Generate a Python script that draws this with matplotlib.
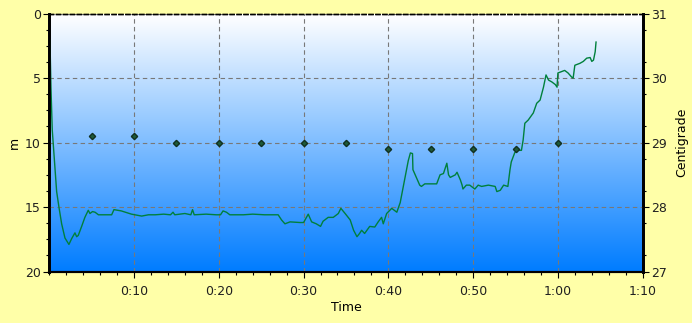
import numpy as np
import matplotlib
matplotlib.use("Agg")
import matplotlib.pyplot as plt
import matplotlib.ticker as mticker
from matplotlib.colors import LinearSegmentedColormap

# depth profile (minutes, metres)
depth_t = [0.08, 0.2, 0.35, 0.67, 0.87, 1.14, 1.46, 1.85, 2.32, 2.64, 3.03, 3.23, 3.42,
           3.82, 4.2, 4.6, 4.8, 5.1, 5.4, 5.8, 7.36, 7.63, 8.5, 9.7, 10.9, 11.7, 12.5,
           13.5, 14.3, 14.6, 14.8, 16.0, 16.7, 16.9, 17.1, 18.5, 19.7, 20.2, 20.5, 20.9,
           21.3, 22.9, 24.0, 25.4, 27.0, 27.4, 27.8, 28.4, 29.6, 30.0, 30.55, 30.95, 31.5,
           32.0, 32.3, 32.9, 33.5, 34.1, 34.4, 34.9, 35.5, 35.9, 36.3, 36.6, 36.85, 37.2,
           37.8, 38.4, 38.8, 39.2, 39.4, 39.8, 40.4, 41.0, 41.4, 41.8, 42.1, 42.35, 42.6,
           42.85, 42.9, 43.3, 43.7, 43.9, 44.3, 45.7, 46.1, 46.5, 46.9, 47.1, 47.3, 47.9,
           48.1, 48.5, 48.7, 48.8, 49.2, 49.6, 50.2, 50.6, 51.0, 51.8, 52.6, 52.8, 53.2,
           53.6, 54.1, 54.35, 54.5, 54.9, 55.1, 55.7, 55.9, 56.1, 56.5, 57.1, 57.5, 57.9,
           58.3, 58.6, 58.9, 59.3, 59.7, 59.9, 60.0, 60.4, 60.8, 61.2, 61.6, 61.8, 62.0,
           62.6, 63.0, 63.4, 63.8, 64.0, 64.2, 64.4, 64.5]
depth_m = [2.05, 5.7, 9.0, 11.9, 13.8, 15.0, 16.3, 17.4, 17.9, 17.45, 17.0, 17.3, 17.2,
           16.5, 15.8, 15.25, 15.5, 15.35, 15.4, 15.6, 15.6, 15.2, 15.3, 15.55, 15.7, 15.6, 15.6,
           15.55, 15.6, 15.4, 15.6, 15.5, 15.6, 15.2, 15.6, 15.55, 15.6, 15.6, 15.3, 15.4,
           15.6, 15.6, 15.55, 15.6, 15.6, 16.0, 16.3, 16.15, 16.2, 16.2, 15.55, 16.15, 16.3,
           16.5, 16.1, 15.8, 15.8, 15.5, 15.1, 15.5, 16.0, 16.8, 17.3, 17.05, 16.8, 17.05,
           16.5, 16.55, 16.15, 15.8, 16.3, 15.5, 15.1, 15.4, 14.65, 13.3, 12.3, 11.4, 10.8,
           10.85, 12.1, 12.7, 13.3, 13.4, 13.2, 13.2, 12.5, 12.4, 11.6, 12.5, 12.7, 12.5,
           12.3, 12.9, 13.3, 13.6, 13.3, 13.3, 13.6, 13.3, 13.4, 13.3, 13.4, 13.8, 13.7,
           13.3, 13.4, 12.1, 11.5, 10.8, 10.6, 10.6, 9.8, 8.5, 8.25, 7.7, 6.95, 6.7,
           5.7, 4.75, 5.15, 5.3, 5.5, 5.7, 4.6, 4.5, 4.4, 4.6, 4.9, 5.0, 4.0,
           3.85, 3.7, 3.45, 3.4, 3.7, 3.6, 2.95, 2.2]

# temperature samples (minutes, centigrade)
temp_t = [5, 10, 15, 20, 25, 30, 35, 40, 45, 50, 55, 60]
temp_c = [29.1, 29.1, 29.0, 29.0, 29.0, 29.0, 29.0, 28.9, 28.9, 28.9, 28.9, 29.0]

x_ticks = [10, 20, 30, 40, 50, 60, 70]
x_labels = ["0:10", "0:20", "0:30", "0:40", "0:50", "1:00", "1:10"]

fig = plt.figure(figsize=(6.92, 3.23), dpi=100, facecolor="#FFFFA8")
ax = fig.add_axes([0.0712, 0.1594, 0.8575, 0.7982])

# gradient background
cmap = LinearSegmentedColormap.from_list("bg", ["#FFFFFF", "#007CFF"])
grad = np.linspace(0, 1, 256).reshape(-1, 1)
ax.imshow(grad, cmap=cmap, aspect="auto", extent=[0, 1, 0, 1],
          transform=ax.transAxes, zorder=0)

ax.plot(depth_t, depth_m, color="#00803C", lw=1.0, zorder=3)
ax.set_xlim(0, 70)
ax.set_ylim(20, 0)

ax.set_xticks(x_ticks)
ax.set_xticklabels(x_labels)
ax.xaxis.set_minor_locator(mticker.MultipleLocator(2))
ax.set_yticks([0, 5, 10, 15, 20])
ax.yaxis.set_minor_locator(mticker.MultipleLocator(1.25))
ax.grid(True, which="major", color="#787878", ls=(0, (4, 3)), lw=0.8, zorder=1)
ax.set_axisbelow(False)

ax.set_xlabel("Time", fontsize=9, labelpad=2)
ax.set_ylabel("m", fontsize=9, labelpad=3)

ax2 = ax.twinx()
ax2.plot(temp_t, temp_c, ls="none", marker="D", ms=3.2, color="#1E5A3A",
         mec="#103020", zorder=4)
ax2.set_ylim(27, 31)
ax2.set_yticks([27, 28, 29, 30, 31])
ax2.yaxis.set_minor_locator(mticker.FixedLocator(np.arange(27.25, 31, 0.5)))
ax2.set_ylabel("Centigrade", fontsize=9, labelpad=6)

for a in (ax, ax2):
    a.tick_params(which="major", length=4, width=0.8, labelsize=9, color="black",
                  labelcolor="#202020", pad=2)
    a.tick_params(which="minor", length=2, width=0.8, color="black")
    a.spines["left"].set_linewidth(2)
    a.spines["right"].set_linewidth(2)
    a.spines["bottom"].set_linewidth(1.5)
    a.spines["top"].set_linewidth(1)
    a.spines["top"].set_linestyle((0, (3, 2)))
ax.tick_params(axis="x", pad=6)

fig.savefig("out.png", dpi=100, facecolor=fig.get_facecolor())
